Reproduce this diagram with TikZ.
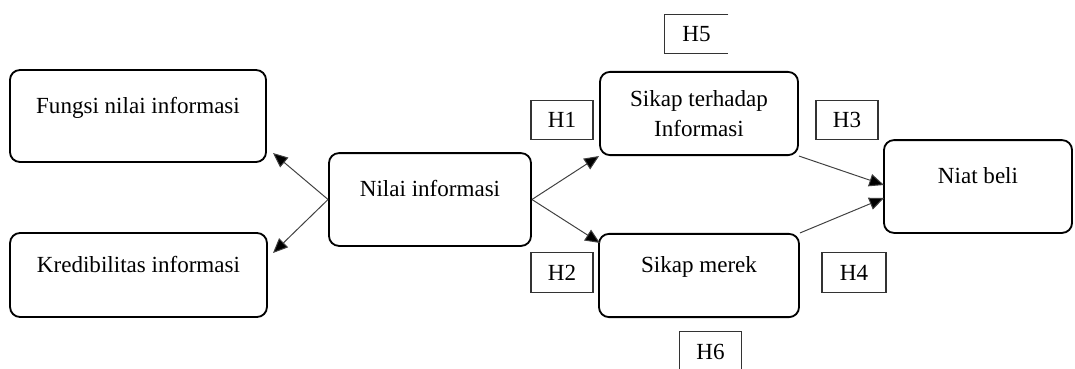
\documentclass[tikz,border=0pt]{standalone}
\usepackage{fontspec}
\setmainfont{Liberation Serif}
\usepackage{tikz}
\usetikzlibrary{arrows.meta,calc}

\tikzset{
  var/.style={draw, line width=1.3pt, rounded corners=0.25cm, align=center, inner sep=0pt},
  hyp/.style={draw=black!80, line width=0.8pt, inner sep=0pt, minimum width=1.55cm, minimum height=0.98cm},
  arr/.style={draw=black!75, line width=0.7pt, -{Triangle[length=10.5pt,width=9pt,fill=black]}}
}

\begin{document}
\begin{tikzpicture}[x=0.025cm, y=-0.025cm, font=\fontsize{16.4}{21.3}\selectfont]
\useasboundingbox (0,0) rectangle (1075,368);
\clip (0,0) rectangle (1075,368);

\node[var, minimum width=6.4cm, minimum height=2.3cm] (fungsi) at (138,116) {Fungsi nilai informasi\\[-6pt]\mbox{}};
\node[var, minimum width=6.42cm, minimum height=2.1cm] (kred) at (138.5,275) {Kredibilitas informasi\\[-6pt]\mbox{}};
\node[var, minimum width=5.05cm, minimum height=2.32cm] (nilai) at (430,199.5) {Nilai informasi\\[-6pt]\mbox{}};
\node[var, minimum width=4.95cm, minimum height=2.08cm] (sikapI) at (699,113.5) {Sikap terhadap\\Informasi};
\node[var, minimum width=5cm, minimum height=2.08cm] (sikapM) at (699,275.5) {Sikap merek\\[-6pt]\mbox{}};
\node[var, minimum width=4.7cm, minimum height=2.32cm] (niat) at (978,186.5) {Niat beli\\[-6pt]\mbox{}};

\node[hyp] (h1) at (562,120) {H1};
\node[hyp] (h2) at (562,272.5) {H2};
\node[hyp] (h3) at (847,120) {H3};
\node[hyp, minimum width=1.6cm] (h4) at (854,272.5) {H4};
\node[inner sep=0pt, minimum width=1.58cm, minimum height=0.95cm] (h5) at (696.5,34) {H5};
\draw[black!80, line width=0.8pt] (h5.north east) -- (h5.north west) -- (h5.south west) -- (h5.south east);
\node[hyp] (h6) at (710.5,351.5) {H6};

\coordinate (tF) at (273,153);
\coordinate (tK) at (273,253);
\coordinate (tM) at (600,243);
\coordinate (tN1) at (884,185);
\coordinate (tN2) at (884,198);

\draw[arr] (nilai.west) -- (tF);
\draw[arr] (nilai.west) -- (tK);
\draw[arr] (nilai.east) -- (sikapI.south west);
\draw[arr] (nilai.east) -- (tM);
\draw[arr] (sikapI.south east) -- (tN1);
\draw[arr] (sikapM.north east) -- (tN2);
\end{tikzpicture}
\end{document}
